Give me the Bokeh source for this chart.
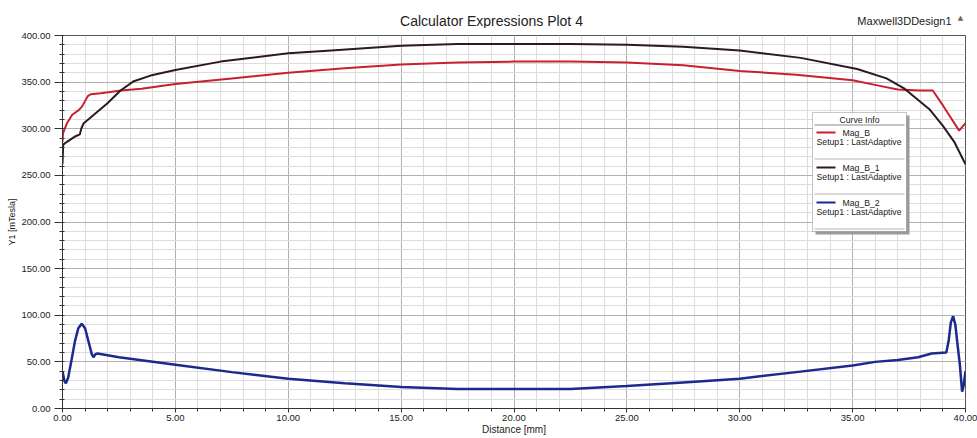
from bokeh.plotting import figure
from bokeh.layouts import column
from bokeh.models import (Range1d, SingleIntervalTicker, PrintfTickFormatter,
                          Label, BoxAnnotation)
from bokeh.embed import file_html
from bokeh.resources import INLINE

# ---------------- data ----------------
title_text = "Calculator Expressions Plot 4"
design_text = "Maxwell3DDesign1"
x_label = "Distance [mm]"
y_label = "Y1 [mTesla]"
legend_title = "Curve Info"
series_names = ["Mag_B", "Mag_B_1", "Mag_B_2"]
solution_name = "Setup1 : LastAdaptive"

x_mag_b = [0.0, 0.02, 0.2, 0.43, 0.72, 0.87, 1.12, 1.25, 1.7, 2.6, 3.5, 5.0,
           7.5, 10.0, 12.5, 15.0, 17.5, 20.0, 22.5, 25.0, 27.5, 30.0, 32.5,
           35.0, 36.2, 37.0, 38.0, 38.55, 39.0, 39.4, 39.72, 40.0]
y_mag_b = [286, 295, 306, 315, 320, 324, 335, 337, 338, 341, 343, 348,
           354, 360, 365, 369, 371, 372, 372, 371, 368, 362, 358,
           352, 346, 342, 341, 341, 325, 310, 298, 306]

x_mag_b1 = [0.0, 0.03, 0.2, 0.58, 0.77, 0.83, 0.94, 1.39, 1.98, 2.57, 3.16,
            3.9, 5.0, 7.0, 10.0, 11.9, 15.0, 17.5, 20.0, 22.5, 25.0, 27.5,
            30.0, 32.7, 35.2, 36.5, 37.3, 38.4, 39.0, 39.5, 40.0]
y_mag_b1 = [262, 283, 286, 292, 294, 300, 306, 315, 327, 341, 351,
            357, 363, 372, 381, 384, 389, 391, 391, 391, 390, 388,
            384, 376, 364, 354, 343, 321, 303, 286, 262]

x_mag_b2 = [0.0, 0.08, 0.15, 0.25, 0.4, 0.55, 0.7, 0.85, 1.0, 1.15, 1.3,
            1.37, 1.45, 1.55, 2.5, 5.0, 7.5, 10.0, 12.5, 15.0, 17.5, 20.0,
            22.5, 25.0, 27.5, 30.0, 32.5, 35.0, 36.0, 37.0, 37.9, 38.5,
            39.15, 39.25, 39.35, 39.45, 39.55, 39.65, 39.75, 39.85, 39.92,
            40.0]
y_mag_b2 = [40, 30, 27, 33, 52, 72, 86, 91, 86, 72, 58,
            55, 58, 59, 55, 47, 39, 32, 27, 23, 21, 21,
            21, 24, 28, 32, 39, 46, 50, 52, 55, 59,
            60, 72, 92, 99, 90, 68, 47, 18, 25,
            40]

colors = ["#c8202f", "#2b1a20", "#1b2a8c"]
widths = [2, 2, 2.5]
FONT = "Liberation Sans"

W = 977
FRAME_LEFT = 62          # page x of the plot frame's left edge
HEAD_H = 28

# ---------------- header (title row) ----------------
# (inside a column the header's frame is aligned with the main frame,
#  so x positions are measured from the frame's left edge)
head = figure(width=W, height=HEAD_H, output_backend="svg",
              toolbar_location=None, title_location=None,
              x_axis_location=None, y_axis_location=None,
              x_range=Range1d(0, 1), y_range=Range1d(0, 1),
              min_border=0, min_border_left=0, min_border_right=0,
              min_border_top=0, min_border_bottom=0)
head.outline_line_color = None
head.grid.visible = False
head.background_fill_color = "white"
head.border_fill_color = "white"
head.add_layout(Label(x=491 - FRAME_LEFT, y=HEAD_H - 20, x_units="screen",
                      y_units="screen", text=title_text, text_align="center",
                      text_baseline="middle", text_font=FONT,
                      text_font_size="14px", text_color="#222222"))
head.add_layout(Label(x=951 - FRAME_LEFT, y=HEAD_H - 20, x_units="screen",
                      y_units="screen", text=design_text, text_align="right",
                      text_baseline="middle", text_font=FONT,
                      text_font_size="11px", text_color="#222222"))
head.add_layout(Label(x=960 - FRAME_LEFT, y=HEAD_H - 17, x_units="screen",
                      y_units="screen", text="\u25b2", text_align="center",
                      text_baseline="middle", text_font="DejaVu Sans",
                      text_font_size="7px", text_color="#666666"))

# ---------------- main figure ----------------
H = 438 - HEAD_H
MB_TOP, MB_BOTTOM, MB_LEFT, MB_RIGHT = 35 - HEAD_H, 30, FRAME_LEFT, 12
FRAME_H = H - MB_TOP - MB_BOTTOM

p = figure(width=W, height=H, output_backend="svg", toolbar_location=None,
           title_location=None,
           x_range=Range1d(0, 40), y_range=Range1d(0, 400),
           min_border_top=MB_TOP, min_border_bottom=MB_BOTTOM,
           min_border_left=MB_LEFT, min_border_right=MB_RIGHT)
p.background_fill_color = "white"
p.border_fill_color = "white"
p.outline_line_color = "#555555"
p.outline_line_width = 1

p.xaxis.ticker = SingleIntervalTicker(interval=5, num_minor_ticks=5)
p.yaxis.ticker = SingleIntervalTicker(interval=50, num_minor_ticks=5)
p.xaxis.formatter = PrintfTickFormatter(format="%.2f")
p.yaxis.formatter = PrintfTickFormatter(format="%.2f")

for ax in (p.xaxis, p.yaxis):
    ax.axis_line_color = "#333333"
    ax.major_tick_line_color = "#333333"
    ax.minor_tick_line_color = "#333333"
    ax.major_label_text_font = FONT
    ax.major_label_text_font_size = "9.5px"
    ax.major_label_text_color = "#222222"
    ax.axis_label_text_font = FONT
    ax.axis_label_text_font_style = "normal"
    ax.axis_label_text_color = "#222222"

p.xaxis.major_tick_in = 0
p.xaxis.major_tick_out = 4
p.xaxis.minor_tick_in = 0
p.xaxis.minor_tick_out = 3
p.xaxis.major_label_standoff = 2
p.xaxis.axis_label = x_label
p.xaxis.axis_label_text_font_size = "10px"
p.xaxis.axis_label_standoff = 0

p.yaxis.major_tick_in = 0
p.yaxis.major_tick_out = 8
p.yaxis.minor_tick_in = 2
p.yaxis.minor_tick_out = 3
p.yaxis.major_label_standoff = 4
p.yaxis.axis_label = y_label
p.yaxis.axis_label_text_font_size = "9px"
p.yaxis.axis_label_standoff = 1

for g in (p.xgrid, p.ygrid):
    g.grid_line_color = "#b0b0b0"
    g.grid_line_width = 1
    g.minor_grid_line_color = "#dddddd"
    g.minor_grid_line_width = 1

# ---------------- curves ----------------
xs = [x_mag_b, x_mag_b1, x_mag_b2]
ys = [y_mag_b, y_mag_b1, y_mag_b2]
for xv, yv, c, w in zip(xs, ys, colors, widths):
    p.line(xv, yv, line_color=c, line_width=w)

# ---------------- legend box ("Curve Info") ----------------
L_LEFT, L_RIGHT = 750, 844
L_TOP_OFF, L_BOTTOM_OFF = 77, 196   # px below frame top
ROW = 35


def sy(off):
    return FRAME_H - off


def sbox(left, right, top_off, bottom_off, **kw):
    return BoxAnnotation(left=left, right=right, top=sy(top_off),
                         bottom=sy(bottom_off), left_units="screen",
                         right_units="screen", top_units="screen",
                         bottom_units="screen", **kw)


p.add_layout(sbox(L_LEFT + 3, L_RIGHT + 3, L_TOP_OFF + 3, L_BOTTOM_OFF + 3,
                  fill_color="#9a9a9a", fill_alpha=1.0, line_color=None))
p.add_layout(sbox(L_LEFT, L_RIGHT, L_TOP_OFF, L_BOTTOM_OFF,
                  fill_color="white", fill_alpha=1.0,
                  line_color="#444444", line_width=1))
p.add_layout(Label(x=(L_LEFT + L_RIGHT) / 2, y=sy(L_TOP_OFF + 7),
                   x_units="screen", y_units="screen", text=legend_title,
                   text_align="center", text_baseline="middle",
                   text_font=FONT, text_font_size="8.7px",
                   text_color="#222222"))
sep_offs = [L_TOP_OFF + 12] + [L_TOP_OFF + 12 + ROW * (i + 1) - 1 for i in range(3)]
for i, off in enumerate(sep_offs):
    p.add_layout(sbox(L_LEFT + 2, L_RIGHT - 2, off, off + 1,
                      fill_color="#888888" if i == 0 else "#b5b5b5",
                      fill_alpha=1.0, line_color=None))
for i, (name, c) in enumerate(zip(series_names, colors)):
    base = L_TOP_OFF + 20 + ROW * i
    p.add_layout(sbox(L_LEFT + 4, L_LEFT + 23, base - 1, base + 1,
                      fill_color=c, fill_alpha=1.0, line_color=None))
    p.add_layout(Label(x=L_LEFT + 30, y=sy(base), x_units="screen",
                       y_units="screen", text=name, text_align="left",
                       text_baseline="middle", text_font=FONT,
                       text_font_size="8.7px", text_color="#222222"))
    p.add_layout(Label(x=L_LEFT + 4, y=sy(base + 9), x_units="screen",
                       y_units="screen", text=solution_name, text_align="left",
                       text_baseline="middle", text_font=FONT,
                       text_font_size="8.7px", text_color="#222222"))

layout = column(head, p)
open("out.html", "w").write(file_html(layout, INLINE))
